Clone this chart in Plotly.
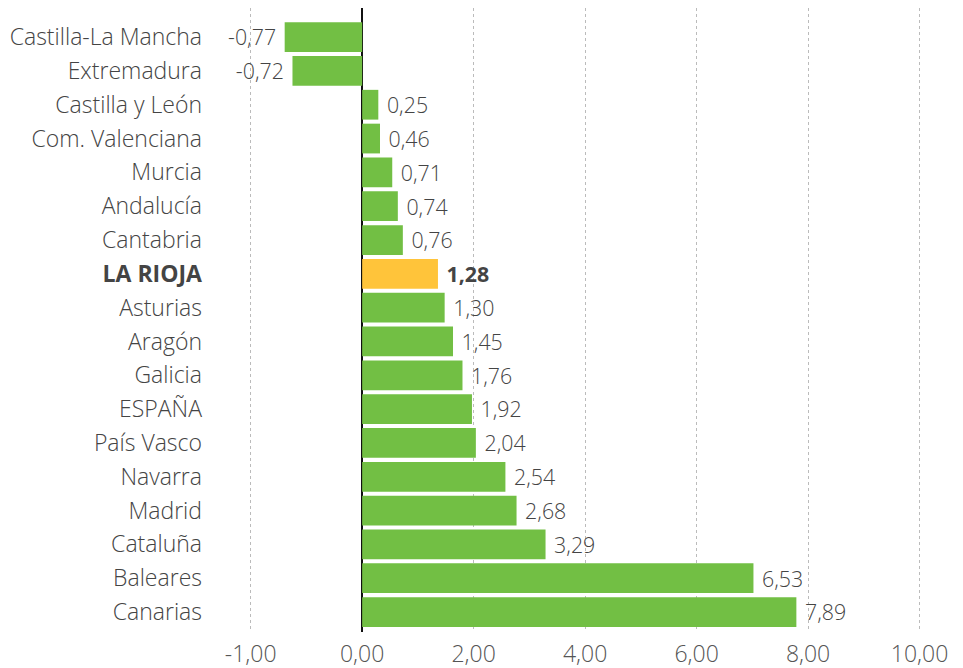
import plotly.graph_objects as go

regions = ["Castilla-La Mancha", "Extremadura", "Castilla y León", "Com. Valenciana",
           "Murcia", "Andalucía", "Cantabria", "LA RIOJA", "Asturias", "Aragón",
           "Galicia", "ESPAÑA", "País Vasco", "Navarra", "Madrid", "Cataluña",
           "Baleares", "Canarias"]
# printed values
label_values = [-0.77, -0.72, 0.25, 0.46, 0.71, 0.74, 0.76, 1.28, 1.30, 1.45,
                1.76, 1.92, 2.04, 2.54, 2.68, 3.29, 6.53, 7.89]
# bar lengths as drawn in the reference (axis units)
bar_lengths = [-1.39, -1.25, 0.29, 0.32, 0.54, 0.64, 0.73, 1.36, 1.48, 1.63,
               1.80, 1.97, 2.04, 2.57, 2.77, 3.29, 7.02, 7.79]
highlight = "LA RIOJA"
x_tickvals = [-2, 0, 2, 4, 6, 8, 10]
x_ticktext = ["-1,00", "0,00", "2,00", "4,00", "6,00", "8,00", "10,00"]

GREEN = "#72BF44"
YELLOW = "#FFC43A"
FONT = "Open Sans"

def fmt(v):
    return f"{v:.2f}".replace(".", ",")

ypos = list(range(len(regions)))
colors = [YELLOW if r == highlight else GREEN for r in regions]
texts = []
for r, v in zip(regions, label_values):
    t = fmt(v)
    if r == highlight:
        t = f"<b>{t}</b>"
    texts.append(("\u00a0" + t) if v >= 0 else (t + "\u00a0"))
ticktext = [f"<b>{r}</b>" if r == highlight else r for r in regions]

fig = go.Figure(go.Bar(
    x=bar_lengths, y=ypos, orientation="h",
    marker=dict(color=colors, line=dict(width=0)),
    text=texts, textposition="outside", cliponaxis=False,
    textfont=dict(family=FONT, size=23, color="#444444", weight=300),
    hoverinfo="skip",
))

fig.update_layout(
    width=955, height=660,
    margin=dict(l=207, r=10, t=0, b=36, autoexpand=False),
    paper_bgcolor="white", plot_bgcolor="white",
    bargap=0.12, showlegend=False,
    font=dict(family=FONT, size=23, color="#444444"),
    xaxis=dict(range=[-2.64, 10.6], tickvals=x_tickvals, ticktext=x_ticktext,
               showgrid=True, gridcolor="#bbbbbb", griddash="dot", gridwidth=1,
               zeroline=True, zerolinecolor="#111111", zerolinewidth=2,
               ticks="", ticklabelstandoff=6, showline=False, automargin=False,
               tickfont=dict(family=FONT, size=23, color="#555555", weight=300)),
    yaxis=dict(range=[17.59, -0.86], tickvals=ypos, ticktext=ticktext,
               showgrid=False, zeroline=False, ticks="", ticklabelstandoff=12,
               automargin=False,
               tickfont=dict(family=FONT, size=23, color="#444444", weight=300)),
)

fig.write_html("out.html")
